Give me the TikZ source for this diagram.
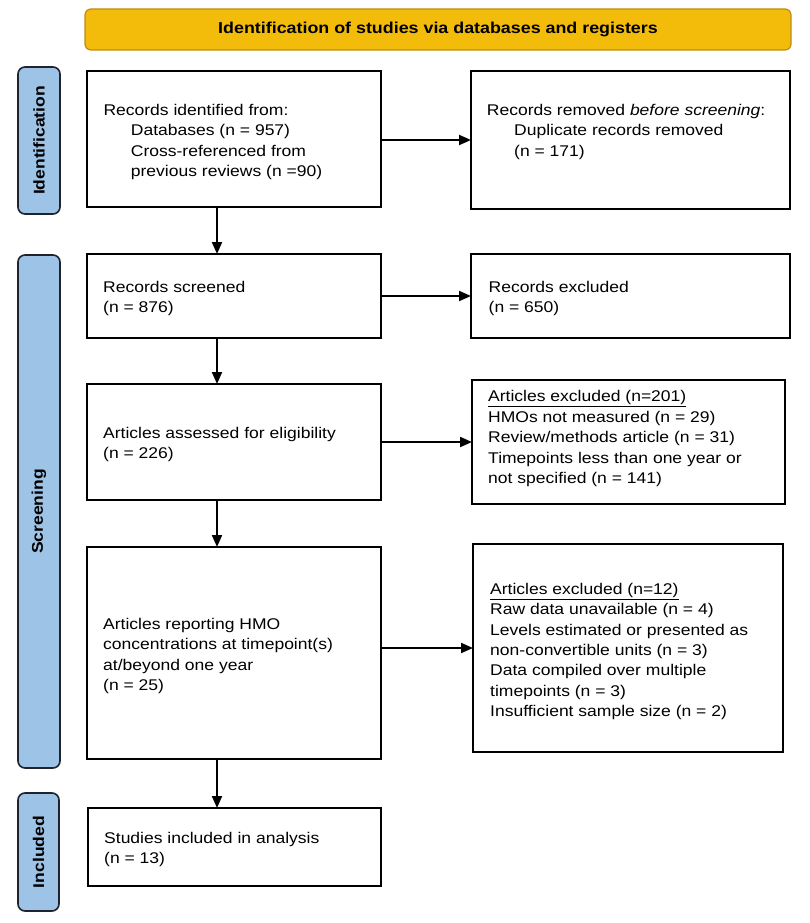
\documentclass[tikz,border=0pt]{standalone}
\usepackage{fontspec}
\setmainfont{Liberation Sans}[FakeStretch=1.13]
\usetikzlibrary{arrows.meta}
\definecolor{bannerfill}{RGB}{243,188,10}
\definecolor{bannerdraw}{RGB}{190,140,20}
\definecolor{barfill}{RGB}{157,195,230}
\definecolor{bardraw}{RGB}{30,35,45}
\newcommand{\bodyfont}{\fontsize{15.5}{20.4}\selectfont}
\newcommand{\fstrut}{\rule{0pt}{12pt}}
\begin{document}
\begin{tikzpicture}[x=1pt,y=-1pt,
  box/.style={draw=black, line width=2pt, anchor=north west, inner sep=0pt, outer sep=0pt},
  txt/.style={anchor=north west, inner sep=0pt, align=left, font=\bodyfont},
  bar/.style={draw=bardraw, fill=barfill, line width=1.6pt, rounded corners=7pt, rotate=90, inner sep=0pt, font=\fontsize{15.5}{18}\selectfont\bfseries},
  banner/.style={draw=bannerdraw, fill=bannerfill, line width=1.2pt, rounded corners=6pt, inner sep=0pt, font=\fontsize{15.8}{18}\selectfont\bfseries},
  arr/.style={line width=2pt, -{Triangle[length=12pt,width=10pt]}}]
\useasboundingbox (0,0) rectangle (810,923);

% banner
\node[banner, minimum width=706pt, minimum height=41pt] (banner) at (438,29.5) {Identification of studies via databases and registers};

% side bars
\node[bar, minimum width=147pt, minimum height=42pt] (idbar) at (39,140.5) {Identification};
\node[bar, minimum width=513pt, minimum height=42pt] (scbar) at (39,511.5) {Screening};
\node[bar, minimum width=118pt, minimum height=41pt] (inbar) at (38.5,852) {Included};

% boxes
\node[box, minimum width=294pt, minimum height=136pt] (b1) at (87,71) {};
\node[box, minimum width=319pt, minimum height=138pt] (b2) at (471,71) {};
\node[box, minimum width=294pt, minimum height=84pt] (b3) at (87,254) {};
\node[box, minimum width=319pt, minimum height=84pt] (b4) at (471,254) {};
\node[box, minimum width=294pt, minimum height=116pt] (b5) at (87,384) {};
\node[box, minimum width=313pt, minimum height=124pt] (b6) at (472,380) {};
\node[box, minimum width=294pt, minimum height=212pt] (b7) at (87,547) {};
\node[box, minimum width=310pt, minimum height=208pt] (b8) at (473,544) {};
\node[box, minimum width=293pt, minimum height=78pt] (b9) at (88,808) {};

% texts
\node[txt] (t1) at (103.3,103) {\fstrut Records identified from:\\\hspace*{27.4pt}Databases (n = 957)\\\hspace*{27.4pt}Cross-referenced from\\\hspace*{27.4pt}previous reviews (n =90)};
\node[txt] (t2) at (486.7,103) {\fstrut Records removed \textit{before screening}:\\\hspace*{27.3pt}Duplicate records removed\\\hspace*{27.3pt}(n = 171)};
\node[txt] (t3) at (103,280) {\fstrut Records screened\\(n = 876)};
\node[txt] (t4) at (488.5,280) {\fstrut Records excluded\\(n = 650)};
\node[txt] (t5) at (103,426) {\fstrut Articles assessed for eligibility\\(n = 226)};
\node[txt] (t6) at (488,389.7) {\fstrut\underline{Articles excluded (n=201)}\\HMOs not measured (n = 29)\\Review/methods article (n = 31)\\Timepoints less than one year or\\not specified (n = 141)};
\node[txt] (t7) at (103,617) {\fstrut Articles reporting HMO\\concentrations at timepoint(s)\\at/beyond one year\\(n = 25)};
\node[txt] (t8) at (490,582) {\fstrut\underline{Articles excluded (n=12)}\\Raw data unavailable (n = 4)\\Levels estimated or presented as\\non-convertible units (n = 3)\\Data compiled over multiple\\timepoints (n = 3)\\Insufficient sample size (n = 2)};
\node[txt] (t9) at (104,831) {\fstrut Studies included in analysis\\(n = 13)};

% arrows
\draw[arr] (b1.east |- b2.west) -- (b2.west);
\draw[arr] (b3.east |- b4.west) -- (b4.west);
\draw[arr] (b5.east |- b6.west) -- (b6.west);
\draw[arr] (b7.east |- b8.west) -- (b8.west);
\draw[arr] ([xshift=130pt]b1.south west) -- ([xshift=130pt]b1.south west |- b3.north);
\draw[arr] ([xshift=130pt]b3.south west) -- ([xshift=130pt]b3.south west |- b5.north);
\draw[arr] ([xshift=130pt]b5.south west) -- ([xshift=130pt]b5.south west |- b7.north);
\draw[arr] ([xshift=130pt]b7.south west) -- ([xshift=130pt]b7.south west |- b9.north);
\end{tikzpicture}
\end{document}
